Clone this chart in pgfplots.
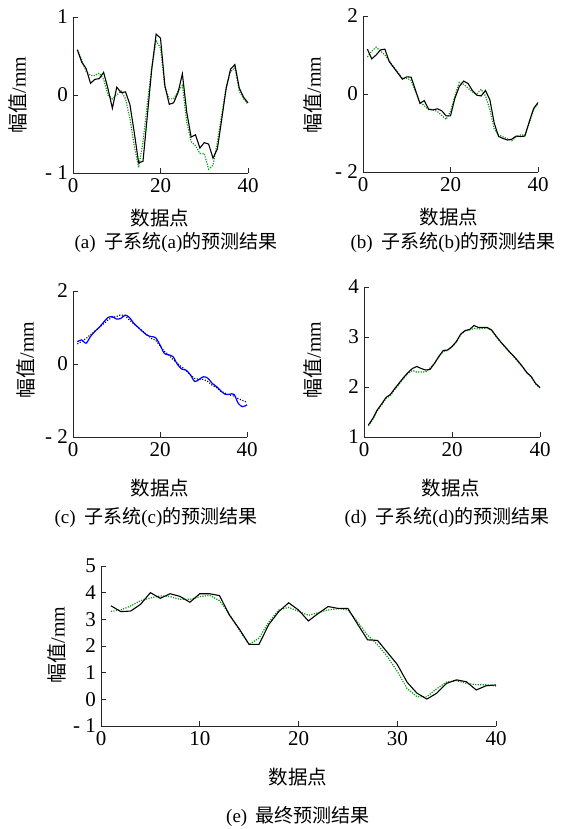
\documentclass[border=0pt]{standalone}
\usepackage{fontspec}
\setmainfont{Liberation Serif}
\newfontfamily\cjk{Noto Sans CJK SC}
\usepackage{pgfplots}
\pgfplotsset{compat=1.18}
\definecolor{pgreen}{RGB}{20,150,20}
\newcommand{\zh}[1]{{\cjk #1}}
\pgfplotsset{
  sub/.style={
    scale only axis, axis lines=left,
    axis line style={-, line width=0.7pt, black!85},
    xmin=0, xmax=40, clip=false,
    tick align=inside, major tick length=5pt,
    tick style={line width=0.7pt, black!85},
    ticklabel style={font=\fontsize{21}{21}\selectfont},
    yticklabel style={inner sep=2pt, xshift=-3pt},
    xticklabel style={inner sep=2pt, yshift=-3pt},
    xtick={0,20,40}, xticklabels={0,20,40},
  },
  meas/.style={black, line width=1.1pt, mark=none},
  pred/.style={pgreen, line width=1.2pt, dash pattern=on 1.2pt off 1.3pt, mark=none},
}
\newcommand{\ylab}[2]{\node[rotate=90, font=\fontsize{20}{20}\selectfont] at (#1) {\zh{幅值}/mm};}
\begin{document}
\begin{tikzpicture}
\path[use as bounding box] (0,0) rectangle (566pt,829pt);
% (a)
\begin{axis}[sub, at={(73pt,656pt)}, anchor=south west, width=175pt, height=156pt,
  ymin=-1, ymax=1, ytick={-1,0,1}, yticklabels={- 1,0,1}]
\addplot[pred] coordinates {(1,0.58)(2,0.45)(3,0.30)(4,0.25)(5,0.25)(6,0.28)(7,0.20)(8,0.0)(9,-0.05)(10,0.0)(11,0.05)(12,-0.05)(13,-0.3)(14,-0.65)(15,-0.93)(16,-0.6)(17,-0.1)(18,0.35)(19,0.7)(20,0.6)(21,0.1)(22,-0.05)(23,-0.05)(24,0.05)(25,0.12)(26,-0.35)(27,-0.6)(28,-0.65)(29,-0.75)(30,-0.75)(31,-0.95)(32,-0.9)(33,-0.6)(34,-0.25)(35,0.1)(36,0.3)(37,0.35)(38,0.05)(39,-0.05)(40,-0.12)};
\addplot[meas] coordinates {(1,0.58)(2,0.42)(3,0.34)(4,0.15)(5,0.20)(6,0.21)(7,0.29)(8,0.08)(9,-0.17)(10,0.10)(11,0.03)(12,0.04)(13,-0.12)(14,-0.48)(15,-0.87)(16,-0.85)(17,-0.26)(18,0.33)(19,0.78)(20,0.73)(21,0.12)(22,-0.12)(23,-0.10)(24,0.03)(25,0.27)(26,-0.22)(27,-0.54)(28,-0.51)(29,-0.68)(30,-0.61)(31,-0.63)(32,-0.81)(33,-0.69)(34,-0.31)(35,0.08)(36,0.33)(37,0.39)(38,0.09)(39,-0.03)(40,-0.10)};
\end{axis}
% (b)
\begin{axis}[sub, at={(363pt,657pt)}, anchor=south west, width=175pt, height=156pt,
  ymin=-2, ymax=2, ytick={-2,0,2}, yticklabels={- 2,0,2}]
\addplot[pred] coordinates {(1,0.95)(2,1.1)(3,1.2)(4,1.1)(5,1.0)(6,0.85)(7,0.7)(8,0.55)(9,0.4)(10,0.4)(11,0.35)(12,0.05)(13,-0.2)(14,-0.3)(15,-0.4)(16,-0.4)(17,-0.45)(18,-0.55)(19,-0.65)(20,-0.45)(21,-0.05)(22,0.3)(23,0.25)(24,0.15)(25,0.05)(26,0.0)(27,0.12)(28,-0.05)(29,-0.4)(30,-0.9)(31,-1.05)(32,-1.1)(33,-1.15)(34,-1.2)(35,-1.1)(36,-1.05)(37,-1.05)(38,-0.75)(39,-0.4)(40,-0.25)};
\addplot[meas] coordinates {(1,1.15)(2,0.90)(3,1.0)(4,1.13)(5,1.15)(6,0.83)(7,0.68)(8,0.53)(9,0.38)(10,0.44)(11,0.43)(12,0.1)(13,-0.24)(14,-0.17)(15,-0.39)(16,-0.41)(17,-0.38)(18,-0.43)(19,-0.56)(20,-0.56)(21,-0.11)(22,0.19)(23,0.33)(24,0.27)(25,0.09)(26,-0.03)(27,-0.05)(28,0.09)(29,-0.15)(30,-0.75)(31,-1.09)(32,-1.14)(33,-1.18)(34,-1.16)(35,-1.08)(36,-1.09)(37,-1.08)(38,-0.71)(39,-0.37)(40,-0.22)};
\end{axis}
% (c)
\begin{axis}[sub, at={(73pt,392pt)}, anchor=south west, width=174pt, height=146pt,
  ymin=-2, ymax=2, ytick={-2,0,2}, yticklabels={- 2,0,2}]
\addplot[black, line width=1.1pt, dash pattern=on 1.1pt off 1.6pt] coordinates {(1,0.55)(2,0.62)(3,0.7)(4,0.8)(5,0.9)(6,1.0)(7,1.1)(8,1.2)(9,1.28)(10,1.3)(11,1.35)(12,1.32)(13,1.2)(14,1.1)(15,1.0)(16,0.9)(17,0.8)(18,0.7)(19,0.65)(20,0.5)(21,0.35)(22,0.25)(23,0.12)(24,0.02)(25,-0.08)(26,-0.18)(27,-0.3)(28,-0.4)(29,-0.42)(30,-0.42)(31,-0.48)(32,-0.58)(33,-0.65)(34,-0.75)(35,-0.8)(36,-0.85)(37,-0.88)(38,-0.95)(39,-1.0)(40,-1.05)};
\addplot[blue, line width=1.2pt, smooth] coordinates {(1,0.61)(2,0.66)(3,0.57)(4,0.75)(5,0.89)(6,1.0)(7,1.14)(8,1.27)(9,1.30)(10,1.23)(11,1.25)(12,1.34)(13,1.27)(14,1.11)(15,1.0)(16,0.89)(17,0.79)(18,0.75)(19,0.72)(20,0.52)(21,0.29)(22,0.25)(23,0.2)(24,-0.01)(25,-0.14)(26,-0.17)(27,-0.3)(28,-0.48)(29,-0.42)(30,-0.35)(31,-0.39)(32,-0.53)(33,-0.62)(34,-0.74)(35,-0.83)(36,-0.83)(37,-0.83)(38,-1.08)(39,-1.17)(40,-1.12)};
\end{axis}
% (d)
\begin{axis}[sub, at={(364pt,392pt)}, anchor=south west, width=176pt, height=150pt,
  ymin=1, ymax=4, ytick={1,2,3,4}, yticklabels={1,2,3,4}]
\addplot[pred] coordinates {(1,1.22)(2,1.35)(3,1.52)(4,1.64)(5,1.77)(6,1.83)(7,1.95)(8,2.06)(9,2.17)(10,2.27)(11,2.33)(12,2.3)(13,2.3)(14,2.3)(15,2.38)(16,2.47)(17,2.6)(18,2.71)(19,2.73)(20,2.8)(21,2.9)(22,3.05)(23,3.12)(24,3.14)(25,3.17)(26,3.16)(27,3.17)(28,3.18)(29,3.13)(30,3.01)(31,2.9)(32,2.8)(33,2.7)(34,2.61)(35,2.5)(36,2.4)(37,2.28)(38,2.2)(39,2.06)(40,1.98)};
\addplot[meas] coordinates {(1,1.24)(2,1.37)(3,1.54)(4,1.66)(5,1.79)(6,1.85)(7,1.97)(8,2.08)(9,2.19)(10,2.29)(11,2.37)(12,2.41)(13,2.37)(14,2.34)(15,2.35)(16,2.47)(17,2.61)(18,2.73)(19,2.74)(20,2.81)(21,2.91)(22,3.06)(23,3.13)(24,3.15)(25,3.23)(26,3.19)(27,3.19)(28,3.19)(29,3.14)(30,3.02)(31,2.91)(32,2.81)(33,2.71)(34,2.62)(35,2.52)(36,2.41)(37,2.29)(38,2.21)(39,2.07)(40,1.99)};
\end{axis}
% (e)
\begin{axis}[sub, at={(101pt,103pt)}, anchor=south west, width=395pt, height=160pt,
  ymin=-1, ymax=5, ytick={-1,0,...,5}, yticklabels={- 1,0,1,2,3,4,5},
  xtick={0,10,20,30,40}, xticklabels={0,10,20,30,40}]
\addplot[pred] coordinates {(1,3.3)(2,3.35)(3,3.5)(4,3.7)(5,3.8)(6,3.88)(7,3.85)(8,3.75)(9,3.75)(10,3.85)(11,3.9)(12,3.7)(13,3.2)(14,2.6)(15,2.05)(16,2.3)(17,2.9)(18,3.35)(19,3.45)(20,3.3)(21,3.15)(22,3.25)(23,3.35)(24,3.4)(25,3.35)(26,2.9)(27,2.4)(28,2.05)(29,1.6)(30,1.05)(31,0.4)(32,0.1)(33,0.1)(34,0.4)(35,0.65)(36,0.7)(37,0.6)(38,0.55)(39,0.55)(40,0.5)};
\addplot[meas] coordinates {(1,3.51)(2,3.29)(3,3.31)(4,3.56)(5,4.0)(6,3.79)(7,3.96)(8,3.86)(9,3.64)(10,3.96)(11,3.96)(12,3.89)(13,3.16)(14,2.64)(15,2.06)(16,2.06)(17,2.81)(18,3.29)(19,3.62)(20,3.35)(21,2.94)(22,3.22)(23,3.48)(24,3.41)(25,3.41)(26,2.81)(27,2.23)(28,2.21)(29,1.76)(30,1.31)(31,0.64)(32,0.23)(33,0.01)(34,0.23)(35,0.6)(36,0.73)(37,0.66)(38,0.35)(39,0.51)(40,0.54)};
\end{axis}
% labels
\tikzset{xl/.style={font=\fontsize{19.5}{19.5}\selectfont\cjk}, capt/.style={font=\fontsize{19}{19}\selectfont}}
\node[xl] at (160pt,611pt) {数据点};
\node[xl] at (449pt,612pt) {数据点};
\node[xl] at (160pt,341pt) {数据点};
\node[xl] at (451pt,341pt) {数据点};
\node[xl] at (298pt,52pt) {数据点};
\ylab{18pt,734pt}{}
\ylab{313pt,734pt}{}
\ylab{26pt,469pt}{}
\ylab{313pt,469pt}{}
\ylab{57pt,184pt}{}
\node[capt] at (176pt,586pt) {(a)\hspace{0.45em}\zh{子系统}(a)\zh{的预测结果}};
\node[capt] at (453pt,586pt) {(b)\hspace{0.45em}\zh{子系统}(b)\zh{的预测结果}};
\node[capt] at (156pt,311pt) {(c)\hspace{0.45em}\zh{子系统}(c)\zh{的预测结果}};
\node[capt] at (447pt,311pt) {(d)\hspace{0.45em}\zh{子系统}(d)\zh{的预测结果}};
\node[capt] at (298pt,12pt) {(e)\hspace{0.45em}\zh{最终预测结果}};
\end{tikzpicture}
\end{document}
